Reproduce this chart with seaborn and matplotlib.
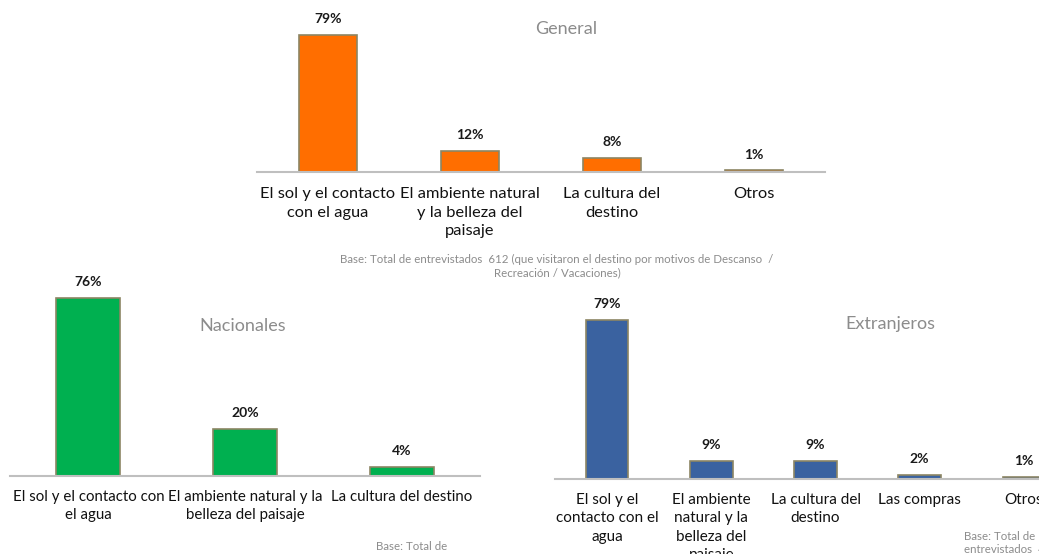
import seaborn as sns
import matplotlib.pyplot as plt
import pandas as pd
from matplotlib.ticker import FixedLocator

# data
gen_labels = ["El sol y el contacto\ncon el agua", "El ambiente natural\ny la belleza del\npaisaje",
              "La cultura del\ndestino", "Otros"]
gen_values = [79, 12, 8, 1]

nac_labels = ["El sol y el contacto con\nel agua", "El ambiente natural y la\nbelleza del paisaje",
              "La cultura del destino"]
nac_values = [76, 20, 4]

ext_labels = ["El sol y el\ncontacto con el\nagua", "El ambiente\nnatural y la\nbelleza del\npaisaje",
              "La cultura del\ndestino", "Las compras", "Otros"]
ext_values = [79, 9, 9, 2, 1]

sns.set_style("white")
plt.rcParams['font.family'] = ['Lato', 'DejaVu Sans']

W, H = 1039, 554
fig = plt.figure(figsize=(W / 100, H / 100), dpi=100)


def add_ax(x0, x1, base_y, top_y):
    return fig.add_axes([x0 / W, 1 - base_y / H, (x1 - x0) / W, (base_y - top_y) / H])


def draw(ax, labels, values, color, px_per_pct, height_px, fs, pad):
    df = pd.DataFrame({'cat': labels, 'val': values})
    sns.barplot(data=df, x='cat', y='val', color=color, width=0.41,
                edgecolor='#8c8563', linewidth=1.2, saturation=1, ax=ax)
    ax.set_ylim(0, height_px / px_per_pct)
    ax.set_xlim(-0.5, len(labels) - 0.5)
    for c in ax.containers:
        ax.bar_label(c, fmt='%d%%', padding=7, fontsize=10, fontweight='bold', color='#1a1a1a')
    ax.set_xlabel('')
    ax.set_ylabel('')
    ax.set_yticks([])
    ax.tick_params(axis='x', which='major', length=0, pad=pad, labelsize=fs, labelcolor='#111111')
    ax.set_xticks(range(len(labels)))
    ax.set_xticklabels(labels, linespacing=1.4)
    ax.xaxis.set_minor_locator(FixedLocator([i - 0.5 for i in range(len(labels) + 1)]))
    ax.tick_params(axis='x', which='minor', length=5, width=1.2, color='#bfbfbf', direction='out')
    for s in ['top', 'left', 'right']:
        ax.spines[s].set_visible(False)
    ax.spines['bottom'].set_color('#bfbfbf')
    ax.spines['bottom'].set_linewidth(1.5)


ax1 = add_ax(257, 825, 172, 25)
draw(ax1, gen_labels, gen_values, '#ff6e00', 1.734, 147, 11.8, 11)

ax2 = add_ax(10, 480, 476, 286)
draw(ax2, nac_labels, nac_values, '#00b050', 2.34, 190, 10.8, 10)

ax3 = add_ax(555, 1076, 479, 305)
draw(ax3, ext_labels, ext_values, '#3a62a0', 2.01, 174, 11, 10)

title_kw = dict(fontsize=13, color='#8c8c8c', ha='center', va='center')
fig.text(566 / W, 1 - 29 / H, 'General', **title_kw)
fig.text(243 / W, 1 - 326 / H, 'Nacionales', **title_kw)
fig.text(890 / W, 1 - 324 / H, 'Extranjeros', **title_kw)

base_kw = dict(fontsize=8.3, color='#8c8c8c', linespacing=1.2)
fig.text(557 / W, 1 - 266 / H,
         'Base: Total de entrevistados  612 (que visitaron el destino por motivos de Descanso  /\n'
         'Recreación / Vacaciones)', ha='center', va='center', **base_kw)
fig.text(376 / W, 1 - 547 / H, 'Base: Total de', ha='left', va='center', **base_kw)
fig.text(964 / W, 1 - 531 / H, 'Base: Total de\nentrevistados  4', ha='left', va='top', **base_kw)

fig.savefig('out.png', dpi=100, facecolor='white')
